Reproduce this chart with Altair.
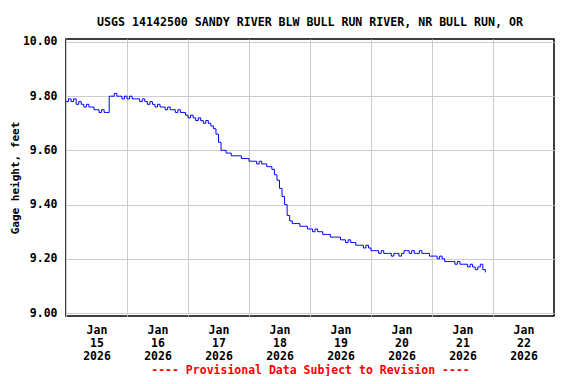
import altair as alt
import pandas as pd

# Hourly gage height readings (feet), starting 2026-01-15 00:00
gage_height = [
    9.78, 9.79, 9.78, 9.79, 9.77, 9.78, 9.77, 9.76, 9.77, 9.76,
    9.76, 9.75, 9.75, 9.74, 9.75, 9.74, 9.74, 9.80, 9.80, 9.81,
    9.80, 9.80, 9.79, 9.80, 9.79, 9.80, 9.79, 9.79, 9.79, 9.78,
    9.79, 9.78, 9.77, 9.78, 9.77, 9.76, 9.77, 9.76, 9.76, 9.75,
    9.76, 9.75, 9.75, 9.74, 9.75, 9.74, 9.74, 9.73, 9.72, 9.73,
    9.72, 9.71, 9.72, 9.71, 9.70, 9.71, 9.70, 9.69, 9.68, 9.66,
    9.63, 9.60, 9.60, 9.59, 9.59, 9.58, 9.58, 9.58, 9.58, 9.57,
    9.57, 9.57, 9.56, 9.56, 9.56, 9.55, 9.56, 9.55, 9.55, 9.54,
    9.54, 9.53, 9.51, 9.49, 9.46, 9.43, 9.40, 9.36, 9.34, 9.33,
    9.33, 9.33, 9.32, 9.32, 9.32, 9.31, 9.31, 9.30, 9.31, 9.30,
    9.30, 9.29, 9.29, 9.29, 9.28, 9.28, 9.28, 9.28, 9.27, 9.27,
    9.26, 9.27, 9.26, 9.26, 9.25, 9.25, 9.25, 9.24, 9.25, 9.24,
    9.23, 9.23, 9.23, 9.22, 9.23, 9.22, 9.22, 9.22, 9.21, 9.22,
    9.22, 9.21, 9.22, 9.23, 9.23, 9.22, 9.23, 9.22, 9.22, 9.23,
    9.22, 9.22, 9.22, 9.21, 9.21, 9.21, 9.20, 9.21, 9.20, 9.19,
    9.19, 9.19, 9.19, 9.18, 9.19, 9.18, 9.18, 9.18, 9.17, 9.18,
    9.17, 9.16, 9.17, 9.18, 9.16, 9.15,
]
start_time = "2026-01-15T00:00:00"
y_ticks = [9.0, 9.2, 9.4, 9.6, 9.8, 10.0]
x_tick_days = [15, 16, 17, 18, 19, 20, 21, 22]

times = pd.date_range(start_time, periods=len(gage_height), freq="h")
df = pd.DataFrame({
    "time": times.strftime("%Y-%m-%dT%H:%M:%S"),
    "height": gage_height,
})

FONT = "DejaVu Sans Mono"

chart = alt.Chart(df).mark_line(
    color="#0000ff", strokeWidth=1, interpolate="step-after"
).encode(
    x=alt.X(
        "time:T",
        scale=alt.Scale(
            domain=[alt.DateTime(year=2026, month=1, date=15),
                    alt.DateTime(year=2026, month=1, date=23)],
            nice=False,
        ),
        axis=alt.Axis(
            values=[alt.DateTime(year=2026, month=1, date=d) for d in x_tick_days],
            labelExpr="[timeFormat(datum.value, '%b'), timeFormat(datum.value, '%d'), timeFormat(datum.value, '%Y')]",
            labelOffset=30.5,
            labelOverlap=False,
            labelFlush=False,
            labelPadding=8,
            labelLineHeight=13,
            ticks=False,
            domain=False,
            title="---- Provisional Data Subject to Revision ----",
            titleColor="#ff0000",
            titlePadding=3,
        ),
    ),
    y=alt.Y(
        "height:Q",
        scale=alt.Scale(domain=[8.989, 10.011], nice=False, zero=False),
        axis=alt.Axis(
            values=y_ticks,
            format=".2f",
            ticks=False,
            domain=False,
            labelPadding=9,
            title="Gage height, feet",
            titleFontSize=11,
            titlePadding=2,
        ),
    ),
).properties(
    width=488,
    height=277,
    background="#ffffff",
    autosize=alt.AutoSizeParams(type="none"),
    padding={"left": 58, "top": 31, "right": 14, "bottom": 60},
    title=alt.TitleParams(
        "USGS 14142500 SANDY RIVER BLW BULL RUN RIVER, NR BULL RUN, OR",
        anchor="middle",
        frame="group",
        baseline="alphabetic",
        offset=14,
        dy=16,
        font=FONT,
        fontSize=11.6,
        fontWeight="bold",
        color="#000000",
    ),
).configure_view(
    stroke="#000000",
    strokeWidth=1.5,
).configure_axis(
    gridColor="#cccccc",
    gridWidth=1,
    gridOpacity=1,
    labelFont=FONT,
    labelFontSize=11.5,
    labelFontWeight="bold",
    labelColor="#000000",
    titleFont=FONT,
    titleFontSize=11.5,
    titleFontWeight="bold",
    titleColor="#000000",
)

chart.save("out.html", embed_options={"renderer": "svg", "actions": False})
